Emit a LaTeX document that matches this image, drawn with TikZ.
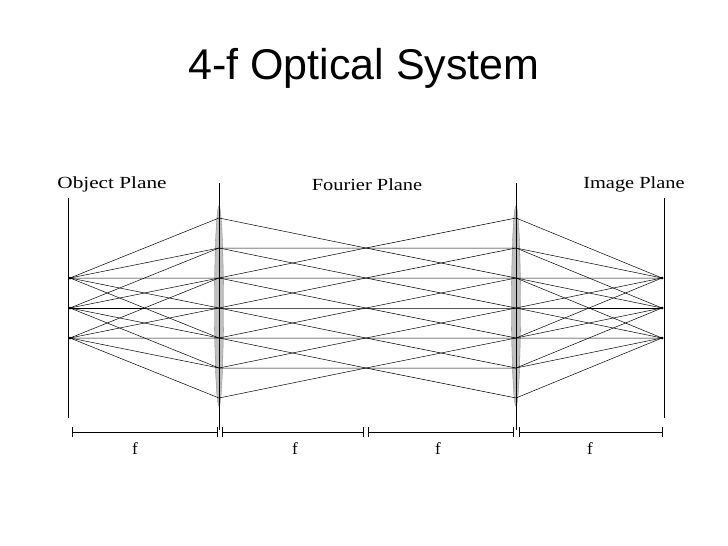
\documentclass[tikz,border=0pt]{standalone}
\usepackage{fontspec}
\newfontfamily\titlefont{Liberation Sans}
\setmainfont{Liberation Serif}
\begin{document}
\begin{tikzpicture}[x=1pt,y=-1pt,ray/.style={line width=0.5pt},
 lbl/.style={font=\fontsize{17}{18}\selectfont,inner sep=0pt}]
\useasboundingbox (0,0) rectangle (728,546);
\node[font=\titlefont\fontsize{43}{46}\selectfont] (title) at (364,68) {4-f Optical System};
\node[lbl,xscale=1.25] (op) at (112,184) {Object Plane};
\node[lbl,xscale=1.2] (fp) at (367,185) {Fourier Plane};
\node[lbl,xscale=1.2] (ip) at (634,184) {Image Plane};
% planes
\draw[line width=0.6pt] (68,198) -- (68,418);
\draw[line width=0.6pt] (664,198) -- (664,418);
% lenses
\foreach \lx in {219,516}{
 \draw[line width=0.6pt] (\lx,183) -- (\lx,430);
 \filldraw[fill=black!25,draw=black!50,line width=0.3pt] (\lx,306) ellipse (4.5 and 100);
 \draw[line width=0.4pt] (\lx,188) -- (\lx,428);
}
% rays
\foreach \yo in {278,308,338}{
 \foreach \d in {-60,-30,0,30,60}{
  \pgfmathsetmacro{\h}{\yo+\d}
  \pgfmathsetmacro{\fy}{308+\d}
  \pgfmathsetmacro{\ht}{616-2*\yo+\h}
  \pgfmathsetmacro{\iy}{616-\yo}
  \draw[ray] (70,\yo) -- (219,\h) -- (366,\fy) -- (516,\ht) -- (662,\iy);
 }
 \fill (70,\yo) circle (1.5);
 \fill (662,616-\yo) circle (1.5);
}
% dimension
\draw[line width=0.5pt] (72,432) -- (217,432) (222,432) -- (363,432) (368,432) -- (513,432) (519,432) -- (662,432);
\foreach \t in {72,217,222,363,368,513,519,662}{\draw[line width=0.5pt] (\t,427) -- (\t,437);}
\node[lbl] (f1) at (135,449) {f};
\node[lbl] (f2) at (295,449) {f};
\node[lbl] (f3) at (438,449) {f};
\node[lbl] (f4) at (590,449) {f};
\end{tikzpicture}
\end{document}
